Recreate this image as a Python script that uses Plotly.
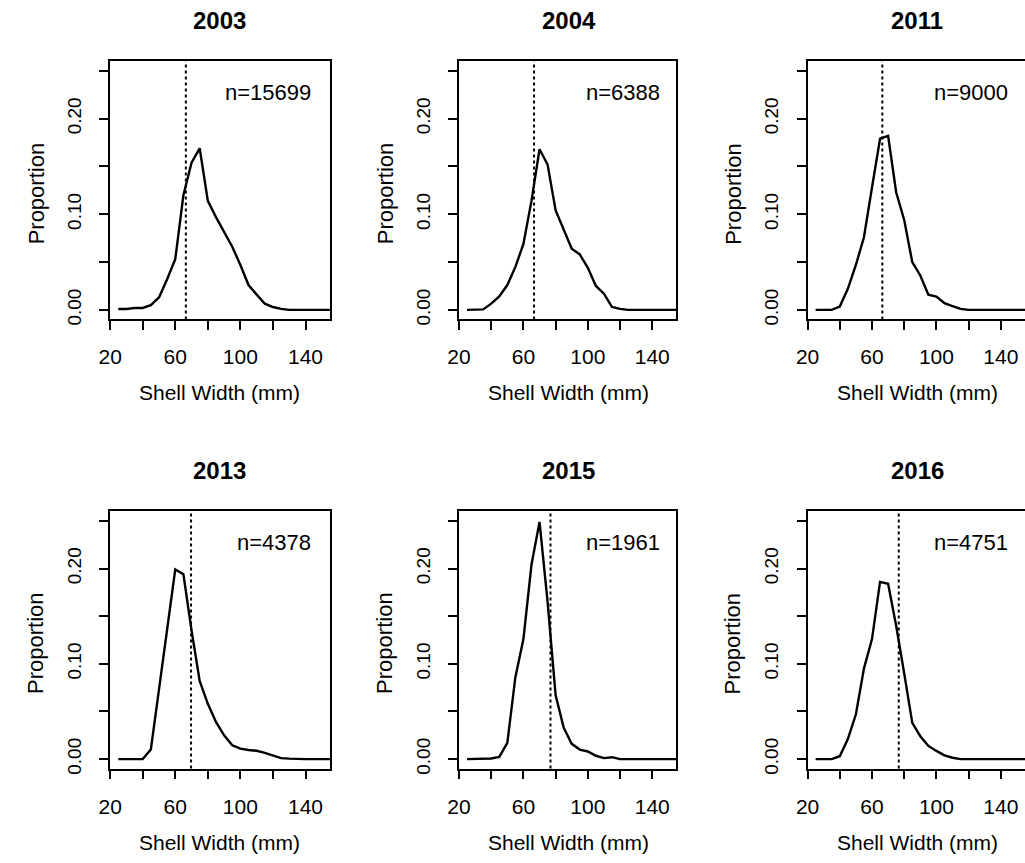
import plotly.graph_objects as go

# ---- data ----
years = ["2003", "2004", "2011", "2013", "2015", "2016"]
sample_sizes = ["n=15699", "n=6388", "n=9000", "n=4378", "n=1961", "n=4751"]
shell_width = [25, 30, 35, 40, 45, 50, 55, 60, 65, 70, 75, 80, 85, 90, 95,
               100, 105, 110, 115, 120, 125, 130, 135, 140, 145, 150, 155]
prop_2003 = [0.001, 0.001, 0.002, 0.002, 0.005, 0.013, 0.032, 0.053, 0.120, 0.154, 0.169, 0.114,
             0.097, 0.081, 0.066, 0.047, 0.026, 0.016, 0.0065, 0.003, 0.001, 0, 0, 0, 0, 0, 0]
prop_2004 = [0, 0, 0.0005, 0.0065, 0.014, 0.026, 0.045, 0.069, 0.114, 0.168, 0.152, 0.104,
             0.083, 0.064, 0.058, 0.044, 0.025, 0.017, 0.003, 0.001, 0, 0, 0, 0, 0, 0, 0]
prop_2011 = [0, 0, 0, 0.0035, 0.022, 0.047, 0.076, 0.128, 0.179, 0.182, 0.123, 0.094,
             0.050, 0.036, 0.016, 0.014, 0.007, 0.004, 0.001, 0, 0, 0, 0, 0, 0, 0, 0]
prop_2013 = [0, 0, 0, 0, 0.010, 0.074, 0.135, 0.199, 0.194, 0.135, 0.082, 0.058,
             0.039, 0.025, 0.0145, 0.011, 0.0095, 0.0087, 0.0066, 0.004, 0.001, 0.0005, 0, 0, 0, 0, 0]
prop_2015 = [0, 0, 0, 0.0007, 0.0024, 0.017, 0.086, 0.126, 0.204, 0.249, 0.165, 0.067,
             0.033, 0.016, 0.010, 0.008, 0.0035, 0.001, 0.002, 0, 0, 0, 0, 0, 0, 0, 0]
prop_2016 = [0, 0, 0, 0.003, 0.021, 0.047, 0.095, 0.126, 0.186, 0.184, 0.140, 0.090,
             0.038, 0.024, 0.0138, 0.0086, 0.004, 0.0014, 0, 0, 0, 0, 0, 0, 0, 0, 0]
ref_width = [66.5, 66.6, 66.4, 69.7, 76.8, 76.6]
x_ticks = [20, 60, 100, 140]
x_minor_ticks = [20, 40, 60, 80, 100, 120, 140]
y_ticks = [0, 0.05, 0.10, 0.15, 0.20, 0.25]
y_tick_text = ["0.00", "", "0.10", "", "0.20", ""]

series = [prop_2003, prop_2004, prop_2011, prop_2013, prop_2015, prop_2016]

# ---- layout geometry (pixels) ----
W, H = 1025, 863
col_px = [(99.3, 321.7), (452.3, 672.3), (805.0, 1025.0)]
row_px = [(61.7, 321.7), (515.0, 774.0)]
FONT = "Liberation Sans, Arial, Helvetica, sans-serif"

fig = go.Figure()
annotations = []
shapes = []
x_tick_text = [str(v) if v in x_ticks else "" for v in x_minor_ticks]

for i in range(6):
    r, c = divmod(i, 3)
    x0, x1 = col_px[c]
    top, bot = row_px[r]
    xa = "x" if i == 0 else f"x{i+1}"
    ya = "y" if i == 0 else f"y{i+1}"
    xkey = "xaxis" if i == 0 else f"xaxis{i+1}"
    ykey = "yaxis" if i == 0 else f"yaxis{i+1}"
    fig.add_trace(go.Scatter(x=shell_width, y=series[i], mode="lines",
                             line=dict(color="black", width=2.4),
                             xaxis=xa, yaxis=ya, showlegend=False, cliponaxis=True))
    common = dict(showline=True, linecolor="black", linewidth=1.5,
                  ticks="outside", ticklen=9, tickwidth=1.5, tickcolor="black",
                  showgrid=False, zeroline=False, fixedrange=True)
    fig.layout[xkey] = dict(domain=[x0 / W, min(x1 / W, 1.0)], anchor=ya,
                            range=[20, 155], tickmode="array", mirror=True,
                            tickvals=x_minor_ticks, ticktext=x_tick_text,
                            tickfont=dict(size=21, family=FONT, color="black"),
                            ticklabelstandoff=9, **common)
    fig.layout[ykey] = dict(domain=[1 - bot / H, 1 - top / H], anchor=xa,
                            range=[-0.01, 0.26], tickmode="array",
                            mirror=(c < 2),
                            tickvals=y_ticks, ticktext=y_tick_text, tickangle=-90,
                            tickfont=dict(size=19, family=FONT, color="black"),
                            ticklabelstandoff=11, **common)
    shapes.append(dict(type="line", xref=xa, yref=f"{ya} domain",
                       x0=ref_width[i], x1=ref_width[i], y0=0, y1=1,
                       line=dict(color="black", width=2, dash="dot")))
    annotations.append(dict(text=f"<b>{years[i]}</b>", xref="paper", yref="paper",
                            x=(x0 + 111) / W, y=1 - (top - 41.5) / H,
                            xanchor="center", yanchor="middle", showarrow=False,
                            font=dict(size=24, family=FONT, color="black")))
    annotations.append(dict(text=sample_sizes[i], xref="paper", yref="paper",
                            x=(x0 + 221 - 16) / W, y=1 - (top + 31.5) / H,
                            xanchor="right", yanchor="middle", showarrow=False,
                            font=dict(size=22, family=FONT, color="black")))
    annotations.append(dict(text="Shell Width (mm)", xref="paper", yref="paper",
                            x=(x0 + 111) / W, y=1 - (bot + 74) / H,
                            xanchor="center", yanchor="middle", showarrow=False,
                            font=dict(size=21, family=FONT, color="black")))
    annotations.append(dict(text="Proportion", xref="paper", yref="paper",
                            x=(x0 - 75) / W, y=1 - ((top + bot) / 2 + 3) / H,
                            xanchor="center", yanchor="middle", textangle=-90,
                            showarrow=False,
                            font=dict(size=22, family=FONT, color="black")))

fig.update_layout(width=W, height=H, margin=dict(l=0, r=0, t=0, b=0),
                  paper_bgcolor="white", plot_bgcolor="white",
                  annotations=annotations, shapes=shapes, showlegend=False)
fig.write_html("out.html")
